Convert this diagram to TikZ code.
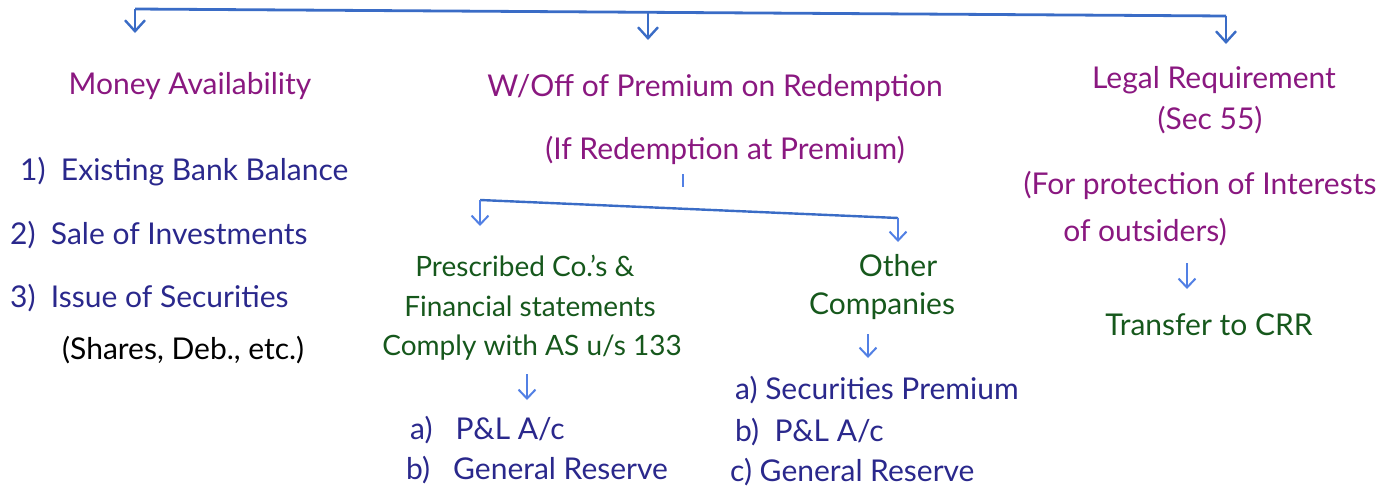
\documentclass[tikz,border=0pt]{standalone}
\usepackage{fontspec}
\setmainfont{Lato}
\usetikzlibrary{arrows.meta}
\definecolor{hpurple}{RGB}{138,24,128}
\definecolor{hnavy}{RGB}{42,40,140}
\definecolor{hgreen}{RGB}{22,88,28}
\definecolor{hblue}{RGB}{58,108,198}
\definecolor{hlblue}{RGB}{82,128,228}
\tikzset{
  head/.style={text=hpurple,font=\fontsize{30}{33}\selectfont,inner sep=0pt},
  item/.style={text=hnavy,font=\fontsize{30}{33}\selectfont,inner sep=0pt,anchor=west},
  gtext/.style={text=hgreen,font=\fontsize{30}{33}\selectfont,inner sep=0pt},
  gsmall/.style={gtext,font=\fontsize{28}{31}\selectfont},
  btext/.style={text=black,font=\fontsize{30}{33}\selectfont,inner sep=0pt,anchor=west},
  bar/.style={draw=hblue,line width=2.8pt},
  arr/.style={draw=hblue,line width=2.4pt,-{Straight Barb[length=11pt,width=20pt,line width=2.4pt]}},
  larr/.style={draw=hlblue,line width=2pt,-{Straight Barb[length=9pt,width=17pt,line width=2pt]}},
}
\begin{document}
\begin{tikzpicture}[x=1pt,y=-1pt]
\useasboundingbox (0,0) rectangle (1392,493);
% top bar
\coordinate (tl) at (135,9);
\coordinate (tm) at (648,12);
\coordinate (tr) at (1226,16);
\draw[bar] (tl) -- (tr);
\coordinate (t1) at (135,33);
\coordinate (t2) at (648,40);
\coordinate (t3) at (1226,44);
\draw[arr] (tl) -- (t1);
\draw[arr] (tm) -- (t2);
\draw[arr] (tr) -- (t3);
% headings
\node[head] (money) at (190,86) {Money Availability};
\node[head] (woff) at (715,88) {W/Off of Premium on Redemption};
\node[head] (ifred) at (725,150) {(If Redemption at Premium)};
\node[head] (legal) at (1214,80) {Legal Requirement};
\node[head] (sec) at (1210,120) {(Sec 55)};
% money list
\node[item] (m1) at (20,172) {1)\ \ Existing Bank Balance};
\node[item] (m2) at (10,235) {2)\ \ Sale of Investments};
\node[item] (m3) at (10,298) {3)\ \ Issue of Securities};
\node[btext] (m4) at (62,350) {(Shares, Deb., etc.)};
% second bar
\coordinate (tick1) at (683,174);
\coordinate (tick2) at (683,187);
\draw[draw=hlblue,line width=2.2pt] (tick1) -- (tick2);
\coordinate (bl) at (480,200);
\coordinate (br) at (898,218);
\draw[draw=hblue,line width=2.4pt] (bl) -- (br);
\coordinate (b1) at (480,226);
\coordinate (b2) at (898,242);
\draw[larr] (bl) -- (b1);
\draw[larr] (br) -- (b2);
% prescribed
\node[gsmall] (p1) at (525,266) {Prescribed Co.'s \&};
\node[gsmall] (p2) at (530,306) {Financial statements};
\node[gsmall] (p3) at (532,348) {Comply with AS u/s 133};
\coordinate (pa1) at (527,374);
\coordinate (pa2) at (527,400);
\draw[larr] (pa1) -- (pa2);
\node[item] (pl1) at (410,430) {a)\ \ \ P\&L A/c};
\node[item] (pl2) at (406,470) {b)\ \ \ General Reserve};
% other companies
\node[gtext] (o1) at (898,266) {Other};
\node[gtext] (o2) at (882,306) {Companies};
\coordinate (oa1) at (868,334);
\coordinate (oa2) at (868,358);
\draw[larr] (oa1) -- (oa2);
\node[item] (ol1) at (735,390) {a)\ Securities Premium};
\node[item] (ol2) at (735,432) {b)\ \ P\&L A/c};
\node[item] (ol3) at (730,472) {c)\ General Reserve};
% legal
\node[head] (f1) at (1200,185) {(For protection of Interests};
\node[head] (f2) at (1145,232) {of outsiders)};
\coordinate (fa1) at (1187,263);
\coordinate (fa2) at (1187,289);
\draw[larr] (fa1) -- (fa2);
\node[gtext] (crr) at (1209,325) {Transfer to CRR};
\end{tikzpicture}
\end{document}
